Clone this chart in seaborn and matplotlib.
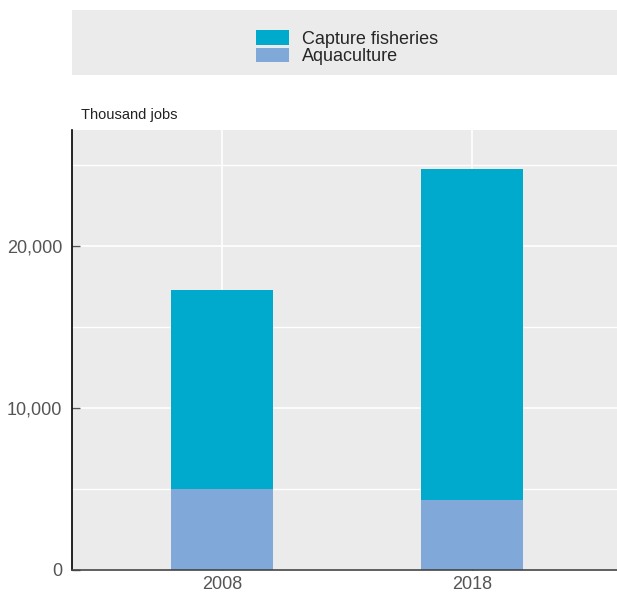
import matplotlib
matplotlib.use("Agg")
import matplotlib.pyplot as plt
import seaborn as sns
import pandas as pd
import numpy as np

years = ["2008", "2018"]
capture = [12300, 20500]
aquaculture = [5000, 4300]
series_names = ["Capture fisheries", "Aquaculture"]
ytick_vals = [0, 10000, 20000]
ytick_labels = ["0", "10,000", "20,000"]

cap_color = "#00aacd"
aqua_color = "#80a8d8"
bg = "#ebebeb"

sns.set_theme(style="darkgrid")
plt.rcParams["font.family"] = ["Liberation Sans", "DejaVu Sans"]

totals = [c + a for c, a in zip(capture, aquaculture)]
df = pd.DataFrame({"year": years, "total": totals, "aqua": aquaculture})

fig = plt.figure(figsize=(6.17, 5.93), dpi=100)
ax = fig.add_axes([72/617, (593-569.7)/593, (617-72)/617, (569.7-130)/593])
ax.set_facecolor(bg)

sns.barplot(data=df, x="year", y="total", color=cap_color, width=0.405,
            saturation=1, ax=ax, edgecolor="none", linewidth=0)
sns.barplot(data=df, x="year", y="aqua", color=aqua_color, width=0.405,
            saturation=1, ax=ax, edgecolor="none", linewidth=0)

ax.set_xlim(-0.6, 1.58)
ax.set_ylim(0, 27192)
ax.set_yticks(ytick_vals)
ax.set_yticklabels(ytick_labels)
ax.set_yticks([5000, 15000, 25000], minor=True)
ax.set_axisbelow(True)
ax.grid(True, which="major", color="white", linewidth=1.2)
ax.grid(True, which="minor", axis="y", color="white", linewidth=1.0)
ax.set_xlabel("")
ax.set_ylabel("")

for s in ["top", "right"]:
    ax.spines[s].set_visible(False)
ax.spines["left"].set_visible(True)
ax.spines["left"].set_color("black")
ax.spines["left"].set_linewidth(1.2)
ax.spines["bottom"].set_visible(True)
ax.spines["bottom"].set_color("#444444")
ax.spines["bottom"].set_linewidth(1.2)

ax.tick_params(axis="y", which="major", direction="in", length=6, width=1,
               color="#555555", labelcolor="#555555", labelsize=13, pad=7, left=True)
ax.tick_params(axis="y", which="minor", left=False)
ax.tick_params(axis="x", direction="in", length=6, width=1, color="#555555",
               labelcolor="#555555", labelsize=13, pad=4.5, bottom=True)

fig.text(81/617, 1 - 119/593, "Thousand jobs", fontsize=10.5, color="#222222",
         ha="left", va="baseline")

# legend box
lax = fig.add_axes([72/617, (593-75)/593, (617-72)/617, 65/593])
lax.set_facecolor(bg)
lax.set_xticks([]); lax.set_yticks([])
for s in lax.spines.values():
    s.set_visible(False)
lax.grid(False)
handles = [plt.Rectangle((0, 0), 1, 1, facecolor=cap_color, edgecolor="none"),
           plt.Rectangle((0, 0), 1, 1, facecolor=aqua_color, edgecolor="none")]
lax.legend(handles, series_names, loc="center", frameon=False, fontsize=13,
           labelspacing=0.0, handlelength=1.83, handleheight=0.88, handletextpad=0.67,
           borderpad=0, bbox_to_anchor=(0.5 + 2.5/545, 0.5 - 5/65))

fig.savefig("out.png", dpi=100)
